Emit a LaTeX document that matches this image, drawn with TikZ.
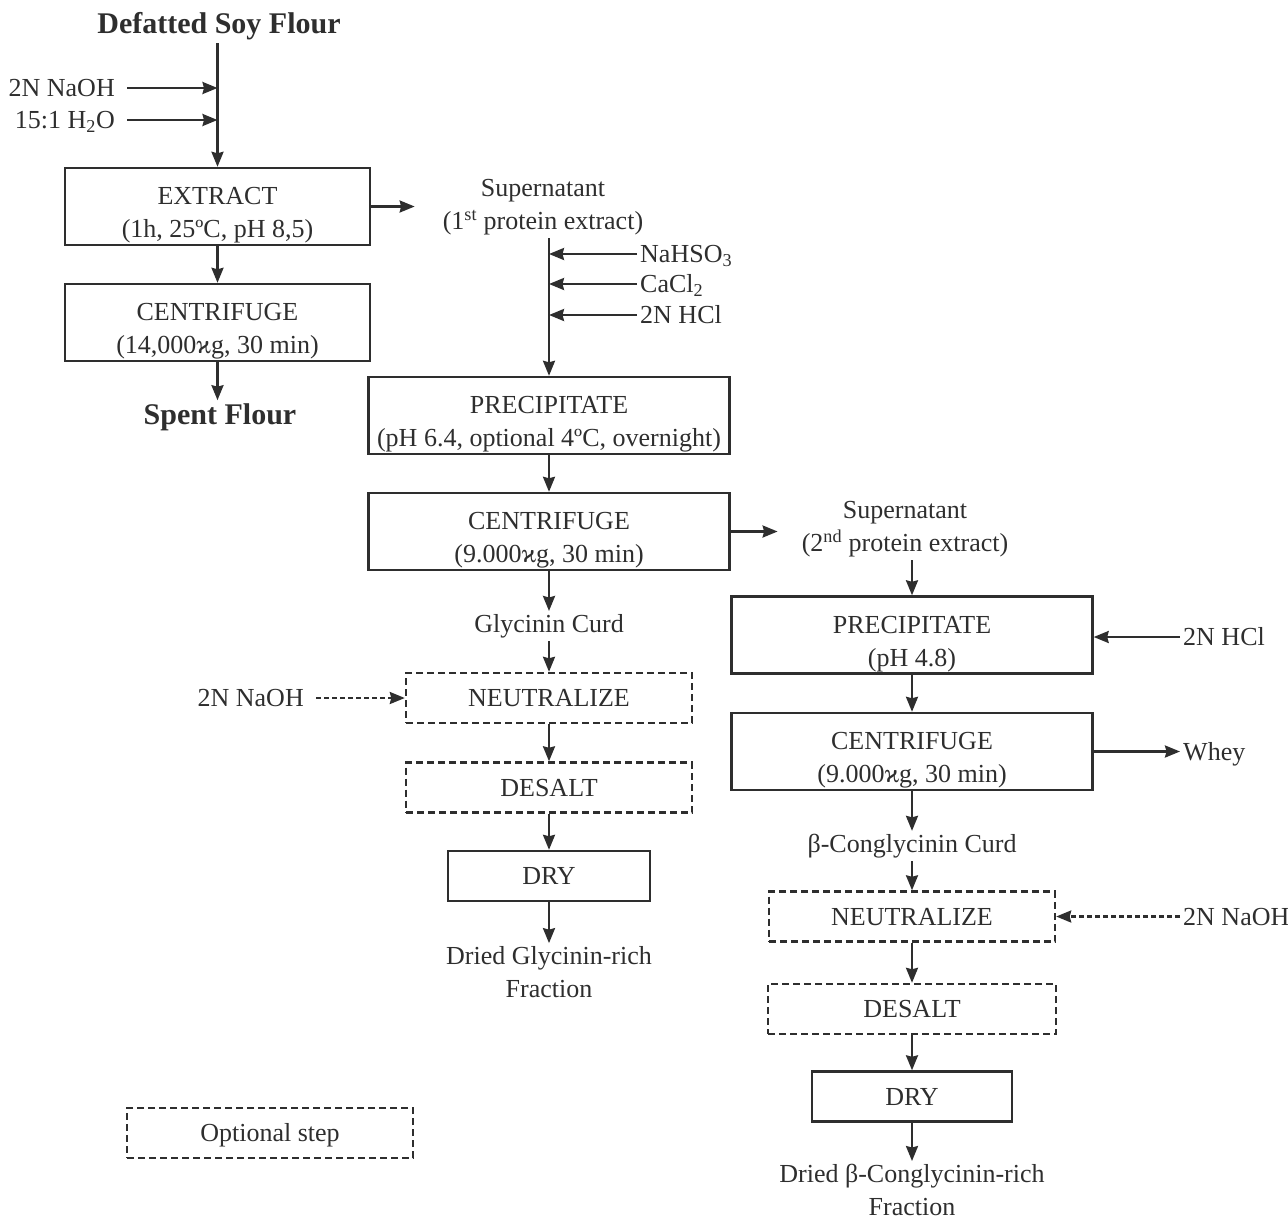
\documentclass[tikz,border=0pt]{standalone}
\usepackage{fontspec}
\setmainfont{Liberation Serif}
\usetikzlibrary{arrows.meta,positioning}
\definecolor{ink}{HTML}{2E2E2E}

\begin{document}
\begin{tikzpicture}[x=1pt,y=-1pt,>={Stealth[length=15pt,width=12pt,inset=1.5pt]},
                    line width=2.4pt,color=ink,font=\fontsize{26}{33}\selectfont,
                    box/.style={draw,inner sep=0pt,align=center,minimum height=77pt,
                                text height=68pt,text depth=6pt},
                    smallbox/.style={draw,inner sep=0pt,align=center,minimum height=50pt,
                                     text height=18pt,text depth=1pt},
                    optbox/.style={smallbox,dash pattern=on 7pt off 4pt},
                    lbl/.style={inner sep=2pt,align=center},
                    feed/.style={inner sep=2pt,text height=17pt,text depth=0pt},
                    title/.style={inner sep=2pt,font=\fontsize{30}{36}\selectfont\bfseries}]
  \useasboundingbox (0,0) rectangle (1288,1219);

  % extraction
  \node[title] (flour) at (219,26) {Defatted Soy Flour};
  \node[feed,anchor=east] (naoh1) at (118,88) {2N NaOH};
  \node[feed,anchor=east] (water) at (118,120) {15:1 H\textsubscript{2}O};
  \node[box,minimum width=305pt] (extract) at (217.5,206.5) {EXTRACT\\(1h, 25ºC, pH 8,5)};
  \node[box,minimum width=305pt] (cent1) at (217.5,322.5) {CENTRIFUGE\\(14,000ϰg, 30 min)};
  \node[title] (spent) at (220,417) {Spent Flour};

  \draw[->] (flour.south -| extract.north) -- (extract.north);
  \draw[->,shorten <=9pt] (naoh1.east) -- (naoh1.east -| extract.north);
  \draw[->,shorten <=9pt] (water.east) -- (water.east -| extract.north);
  \draw[->] (extract) -- (cent1);
  \draw[->] (cent1.south) -- (cent1.south |- spent.north);

  % glycinin branch
  \node[lbl] (sup1) at (543,207) {Supernatant\\(1\textsuperscript{st} protein extract)};
  \node[feed,anchor=west] (nahso) at (637,254) {NaHSO\textsubscript{3}};
  \node[feed,anchor=west] (cacl) at (637,284) {CaCl\textsubscript{2}};
  \node[feed,anchor=west] (hcl1) at (637,315) {2N HCl};
  \node[box,minimum width=361pt] (prec1) at (549,415.5) {PRECIPITATE\\(pH 6.4, optional 4ºC, overnight)};
  \node[box,minimum width=361pt] (cent2) at (549,531.5) {CENTRIFUGE\\(9.000ϰg, 30 min)};
  \node[lbl] (gcurd) at (549,626) {Glycinin Curd};
  \node[feed,anchor=east] (naoh2) at (307,698) {2N NaOH};
  \node[optbox,minimum width=286pt] (neut1) at (549,698) {NEUTRALIZE};
  \node[optbox,minimum width=286pt] (desalt1) at (549,787.5) {DESALT};
  \node[smallbox,minimum width=202pt] (dry1) at (549,876) {DRY};
  \node[lbl] (dried1) at (549,972) {Dried Glycinin-rich\\Fraction};

  \draw[->,shorten >=25pt] (extract.east) -- (extract.east -| sup1.west);
  \draw[->] (sup1.south -| prec1.north) -- (prec1.north);
  \draw[->] (nahso.west) -- (nahso.west -| prec1.north);
  \draw[->] (cacl.west) -- (cacl.west -| prec1.north);
  \draw[->] (hcl1.west) -- (hcl1.west -| prec1.north);
  \draw[->] (prec1) -- (cent2);
  \draw[->] (cent2) -- (gcurd);
  \draw[->] (gcurd) -- (neut1);
  \draw[->,dash pattern=on 5pt off 3pt,shorten <=9pt] (naoh2.east) -- (naoh2.east -| neut1.west);
  \draw[->] (neut1) -- (desalt1);
  \draw[->] (desalt1) -- (dry1);
  \draw[->] (dry1) -- (dried1);

  % beta-conglycinin branch
  \node[lbl] (sup2) at (905,529) {Supernatant\\(2\textsuperscript{nd} protein extract)};
  \node[box,minimum width=361pt] (prec2) at (912,635) {PRECIPITATE\\(pH 4.8)};
  \node[feed,anchor=west] (hcl2) at (1180,637) {2N HCl};
  \node[box,minimum width=361pt] (cent3) at (912,751.5) {CENTRIFUGE\\(9.000ϰg, 30 min)};
  \node[feed,anchor=west] (whey) at (1180,751.5) {Whey};
  \node[lbl] (bcurd) at (912,846) {β-Conglycinin Curd};
  \node[optbox,minimum width=286pt] (neut2) at (912,916.5) {NEUTRALIZE};
  \node[feed,anchor=west] (naoh3) at (1180,916.5) {2N NaOH};
  \node[optbox,minimum width=288pt] (desalt2) at (912,1009) {DESALT};
  \node[smallbox,minimum width=200pt] (dry2) at (912,1096.5) {DRY};
  \node[lbl] (dried2) at (912,1190) {Dried β-Conglycinin-rich\\Fraction};

  \draw[->,shorten >=21pt] (cent2.east) -- (cent2.east -| sup2.west);
  \draw[->] (sup2.south -| prec2.north) -- (prec2.north);
  \draw[->] (hcl2.west) -- (hcl2.west -| prec2.east);
  \draw[->] (prec2) -- (cent3);
  \draw[->] (cent3.east) -- (whey.west);
  \draw[->] (cent3) -- (bcurd);
  \draw[->] (bcurd) -- (neut2);
  \draw[->,dash pattern=on 5pt off 3pt] (naoh3.west) -- (naoh3.west -| neut2.east);
  \draw[->] (neut2) -- (desalt2);
  \draw[->] (desalt2) -- (dry2);
  \draw[->] (dry2) -- (dried2);

  % legend
  \node[optbox,minimum width=286pt] (legend) at (270,1133) {Optional step};
\end{tikzpicture}
\end{document}
